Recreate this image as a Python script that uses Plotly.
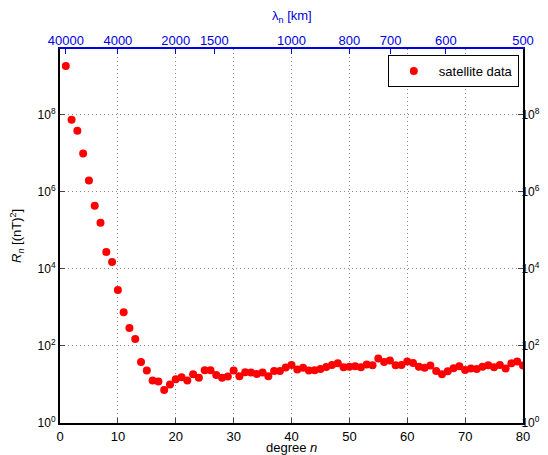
import plotly.graph_objects as go

degree = list(range(1, 81))
power = [1.8e9, 7.3e7, 3.8e7, 9.7e6, 1.95e6, 4.3e5, 1.55e5, 2.7e4, 1.5e4, 2.8e3,
         750, 290, 150, 38, 23, 12.6, 11.9, 7.2, 9.9, 13.6,
         15.3, 12.6, 18.4, 15, 23.3, 23.3, 17.6, 15, 16, 23,
         16.3, 20.7, 20.4, 18.7, 20.4, 16.3, 22.4, 22.4, 27.5, 32,
         24.4, 26.9, 23, 23.3, 25.2, 28.4, 32, 35.5, 27.9, 28.8,
         29.6, 28, 32.7, 31.5, 47, 38.4, 41.7, 31.5, 32, 39.3,
         36, 28.8, 26.9, 30.9, 22.4, 18.4, 22, 26.3, 29.6, 23.8,
         25.8, 25.2, 28.8, 31.5, 28, 32, 25.8, 35.5, 39.3, 30.9]

x_ticks = [0, 10, 20, 30, 40, 50, 60, 70, 80]
y_tickvals = [1, 1e2, 1e4, 1e6, 1e8]
y_ticktext = ["10<sup>0</sup>", "10<sup>2</sup>", "10<sup>4</sup>", "10<sup>6</sup>", "10<sup>8</sup>"]
wavelength_labels = [40000, 4000, 2000, 1500, 1000, 800, 700, 600, 500]
wavelength_pos = [40000.0 / w for w in wavelength_labels]

FONT = "Liberation Sans, Arial, sans-serif"
BLUE = "#0000e0"
FS = 13
GRID = dict(showgrid=True, gridcolor="#8a8a8a", griddash="1px,3px", gridwidth=1)

fig = go.Figure()
fig.add_trace(go.Scatter(x=degree, y=power, mode="markers", name="satellite data",
                         marker=dict(color="#ff0000", size=8, line=dict(width=0))))
# helper trace to activate the secondary axes
fig.add_trace(go.Scatter(x=degree, y=power, mode="markers", xaxis="x2", yaxis="y2",
                         marker=dict(opacity=0), showlegend=False, hoverinfo="skip"))

ymax_log = 9.699

# page body has an 8px default margin -> figure is 8px smaller and margins reduced
fig.update_layout(
    width=540, height=447,
    margin=dict(l=52, r=25, t=41, b=32),
    paper_bgcolor="white", plot_bgcolor="white",
    font=dict(family=FONT, size=FS, color="black"),
    showlegend=True,
    legend=dict(x=0.991, y=0.984, xanchor="right", yanchor="top",
                bordercolor="black", borderwidth=1, bgcolor="white",
                font=dict(size=FS), itemwidth=40, tracegroupgap=0),
    xaxis=dict(range=[0, 80], tickvals=x_ticks, ticks="inside", ticklen=5,
               showline=True, linecolor="black", linewidth=2, automargin=False,
               zeroline=False, tickfont=dict(size=FS), **GRID),
    xaxis2=dict(range=[0, 80], overlaying="x", side="top", anchor="y", automargin=False,
                tickvals=wavelength_pos, ticktext=[str(w) for w in wavelength_labels],
                ticks="inside", ticklen=5, tickcolor=BLUE, ticklabelstandoff=-3,
                showline=True, linecolor=BLUE, linewidth=2,
                showgrid=False, zeroline=False,
                tickfont=dict(size=FS, color=BLUE)),
    yaxis=dict(type="log", range=[0, ymax_log], tickvals=y_tickvals, ticktext=y_ticktext,
               ticks="inside", ticklen=5, showline=True, linecolor="black", linewidth=2,
               automargin=False, zeroline=False, tickfont=dict(size=12), **GRID),
    yaxis2=dict(type="log", range=[0, ymax_log], overlaying="y", side="right", anchor="x",
                tickvals=y_tickvals, ticktext=y_ticktext, automargin=False,
                ticklabelstandoff=-6,
                ticks="inside", ticklen=5, showline=True, linecolor="black", linewidth=2,
                showgrid=False, zeroline=False, tickfont=dict(size=12)),
    annotations=[
        dict(text="degree <i>n</i>", xref="paper", yref="paper", x=0.5, y=0,
             yanchor="middle", yshift=-24, showarrow=False, font=dict(size=FS)),
        dict(text="λ<sub>n</sub> [km]", xref="paper", yref="paper", x=0.5, y=1,
             yanchor="middle", yshift=33, showarrow=False, font=dict(size=FS, color=BLUE)),
        dict(text="<i>R<sub>n</sub></i> [(nT)<sup>2</sup>]", xref="paper", yref="paper",
             x=0, y=0.5, xanchor="center", xshift=-43, textangle=-90,
             showarrow=False, font=dict(size=FS)),
    ],
)

fig.write_html("out.html")
